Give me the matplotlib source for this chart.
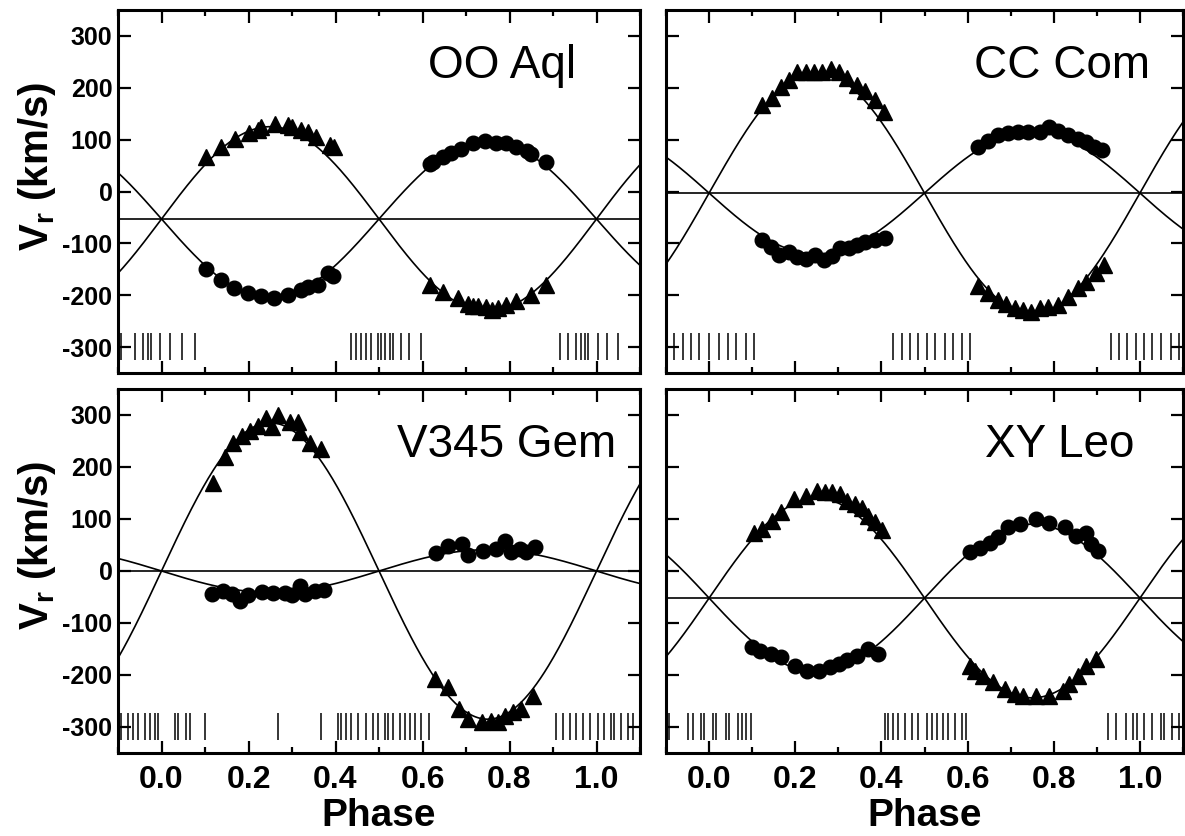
import numpy as np
import matplotlib
matplotlib.use("Agg")
import matplotlib.pyplot as plt
from matplotlib.ticker import MultipleLocator

plt.rcParams["font.family"] = ["Liberation Sans", "DejaVu Sans"]
plt.rcParams["mathtext.fontset"] = "custom"
plt.rcParams["mathtext.rm"] = "Liberation Sans"
plt.rcParams["mathtext.bf"] = "Liberation Sans:bold"
plt.rcParams["axes.unicode_minus"] = False

# ---- data ---------------------------------------------------------------
# OO Aql
oo_tri_ph = [0.103, 0.136, 0.168, 0.200, 0.222, 0.229, 0.260, 0.291, 0.300, 0.320, 0.337, 0.356, 0.387, 0.397,
             0.617, 0.647, 0.682, 0.705, 0.715, 0.728, 0.747, 0.760, 0.773, 0.793, 0.816, 0.850, 0.885]
oo_tri_v = [67, 86, 101, 113, 118, 125, 131, 129, 125, 119, 115, 106, 90, 86,
            -180, -193, -206, -216, -220, -221, -223, -228, -225, -219, -212, -200, -180]
oo_cir_ph = [0.103, 0.137, 0.167, 0.199, 0.229, 0.259, 0.291, 0.320, 0.337, 0.360, 0.383, 0.394,
             0.617, 0.625, 0.647, 0.666, 0.689, 0.716, 0.743, 0.770, 0.793, 0.816, 0.840, 0.850, 0.885]
oo_cir_v = [-150, -171, -187, -195, -201, -206, -200, -190, -185, -180, -158, -163,
            53, 56, 67, 75, 81, 94, 98, 94, 93, 86, 78, 72, 56]
oo_obs = [-0.092, -0.062, -0.043, -0.031, -0.023, -0.004, 0.019, 0.046, 0.076,
          0.436, 0.448, 0.459, 0.471, 0.482, 0.498, 0.505, 0.513, 0.525, 0.532, 0.551, 0.570, 0.597,
          0.915, 0.934, 0.954, 0.965, 0.973, 0.980, 1.003, 1.023, 1.049]
oo_orbit = (-53, 152, 178)  # gamma, K1 (circles), K2 (triangles)

# CC Com
cc_tri_ph = [0.123, 0.147, 0.166, 0.185, 0.204, 0.224, 0.243, 0.262, 0.282, 0.301, 0.320, 0.343, 0.362, 0.386, 0.405,
             0.624, 0.648, 0.671, 0.690, 0.709, 0.729, 0.748, 0.767, 0.786, 0.809, 0.833, 0.856, 0.875, 0.898, 0.917]
cc_tri_v = [167, 180, 202, 215, 231, 231, 231, 231, 236, 231, 218, 205, 193, 176, 154,
            -183, -196, -209, -216, -225, -228, -232, -225, -222, -219, -203, -187, -174, -158, -142]
cc_cir_ph = [0.123, 0.143, 0.162, 0.185, 0.204, 0.224, 0.247, 0.266, 0.285, 0.305, 0.324, 0.343, 0.362, 0.386, 0.409,
             0.624, 0.648, 0.671, 0.694, 0.717, 0.740, 0.767, 0.790, 0.809, 0.833, 0.856, 0.875, 0.894, 0.913]
cc_cir_v = [-93, -107, -122, -116, -127, -131, -122, -133, -125, -109, -109, -103, -97, -93, -90,
            86, 98, 109, 113, 115, 115, 115, 125, 117, 109, 102, 96, 86, 80]
cc_obs = [-0.081, -0.061, -0.042, -0.023, 0.000, 0.023, 0.043, 0.062, 0.085, 0.104,
          0.428, 0.447, 0.466, 0.486, 0.505, 0.524, 0.547, 0.567, 0.586, 0.605,
          0.933, 0.952, 0.971, 0.991, 1.010, 1.029, 1.048, 1.071, 1.091]
cc_orbit = (-3, 118, 233)

# V345 Gem
gem_tri_ph = [0.118, 0.145, 0.164, 0.184, 0.203, 0.222, 0.241, 0.253, 0.268, 0.295, 0.314, 0.318, 0.341, 0.367,
              0.628, 0.659, 0.685, 0.705, 0.736, 0.758, 0.774, 0.789, 0.808, 0.827, 0.854]
gem_tri_v = [170, 219, 247, 260, 270, 279, 295, 276, 300, 286, 286, 267, 247, 235,
             -208, -224, -265, -285, -291, -288, -291, -278, -272, -265, -240]
gem_cir_ph = [0.115, 0.141, 0.161, 0.180, 0.199, 0.230, 0.256, 0.283, 0.299, 0.318, 0.329, 0.352, 0.374,
              0.632, 0.659, 0.690, 0.705, 0.739, 0.770, 0.789, 0.804, 0.823, 0.839, 0.858]
gem_cir_v = [-45, -38, -44, -57, -47, -41, -42, -42, -47, -28, -45, -38, -37,
             34, 49, 52, 31, 39, 43, 58, 36, 42, 37, 47]
gem_obs = [-0.092, -0.077, -0.066, -0.054, -0.039, -0.027, -0.016, -0.008, 0.030, 0.038, 0.057, 0.065, 0.099,
           0.268, 0.367,
           0.406, 0.413, 0.425, 0.436, 0.452, 0.471, 0.486, 0.498, 0.513, 0.521, 0.532, 0.548, 0.559, 0.571,
           0.582, 0.597, 0.616,
           0.908, 0.923, 0.938, 0.954, 0.969, 0.984, 1.003, 1.018, 1.034, 1.041, 1.057, 1.072, 1.084]
gem_orbit = (0, 41, 285)

# XY Leo
xy_tri_ph = [0.104, 0.123, 0.146, 0.166, 0.197, 0.224, 0.250, 0.270, 0.285, 0.305, 0.320, 0.339, 0.355, 0.370,
             0.386, 0.401,
             0.605, 0.617, 0.636, 0.659, 0.686, 0.709, 0.728, 0.759, 0.790, 0.821, 0.836, 0.856, 0.875, 0.898]
xy_tri_v = [74, 81, 97, 113, 138, 145, 154, 151, 151, 148, 135, 129, 122, 106, 94, 78,
            -182, -192, -201, -214, -227, -237, -240, -240, -240, -230, -217, -201, -182, -169]
xy_cir_ph = [0.100, 0.119, 0.143, 0.166, 0.200, 0.227, 0.254, 0.281, 0.301, 0.320, 0.343, 0.370, 0.393,
             0.605, 0.628, 0.651, 0.671, 0.694, 0.721, 0.759, 0.790, 0.825, 0.852, 0.875, 0.886, 0.902]
xy_cir_v = [-147, -153, -160, -166, -182, -192, -192, -185, -179, -172, -163, -150, -160,
            36, 44, 54, 65, 84, 90, 100, 93, 84, 68, 73, 52, 39]
xy_obs = [-0.092, -0.050, -0.038, -0.019, -0.011, 0.008, 0.016, 0.039, 0.046, 0.066, 0.077, 0.085, 0.097,
          0.408, 0.416, 0.428, 0.439, 0.455, 0.470, 0.486, 0.505, 0.517, 0.528, 0.543, 0.555, 0.570, 0.586, 0.597,
          0.925, 0.944, 0.967, 0.983, 0.994, 1.010, 1.029, 1.048, 1.056, 1.075, 1.091]
xy_orbit = (-52, 142, 192)

x_ticks = [0.0, 0.2, 0.4, 0.6, 0.8, 1.0]
y_ticks = [-300, -200, -100, 0, 100, 200, 300]

panels = [
    ("OO Aql", 0.736, oo_tri_ph, oo_tri_v, oo_cir_ph, oo_cir_v, oo_obs, oo_orbit),
    ("CC Com", 0.765, cc_tri_ph, cc_tri_v, cc_cir_ph, cc_cir_v, cc_obs, cc_orbit),
    ("V345 Gem", 0.745, gem_tri_ph, gem_tri_v, gem_cir_ph, gem_cir_v, gem_obs, gem_orbit),
    ("XY Leo", 0.762, xy_tri_ph, xy_tri_v, xy_cir_ph, xy_cir_v, xy_obs, xy_orbit),
]

W, H = 1185, 836
rects = [
    [118 / W, 1 - 373 / H, 522 / W, 363 / H],
    [666 / W, 1 - 373 / H, 517 / W, 363 / H],
    [118 / W, 1 - 753 / H, 522 / W, 364 / H],
    [666 / W, 1 - 753 / H, 517 / W, 364 / H],
]

fig = plt.figure(figsize=(W / 100, H / 100), dpi=100)
phase_grid = np.linspace(-0.1, 1.1, 400)

for idx, (name, name_x, tph, tv, cph, cv, obs, (gamma, k1, k2)) in enumerate(panels):
    ax = fig.add_axes(rects[idx])
    s = np.sin(2 * np.pi * phase_grid)

    # fitted orbits and systemic velocity
    ax.plot(phase_grid, gamma - k1 * s, color="black", lw=1.2, zorder=2)
    ax.plot(phase_grid, gamma + k2 * s, color="black", lw=1.2, zorder=2)
    ax.axhline(gamma, color="black", lw=1.2, zorder=2)

    # measured velocities
    ax.plot(tph, tv, "^", color="black", ms=12, mec="black", zorder=3)
    ax.plot(cph, cv, "o", color="black", ms=10.5, mec="black", zorder=3)

    # phases of the observed spectra
    ax.vlines(obs, -325, -273, color="black", lw=1.1, zorder=2)

    ax.text(name_x, 0.813, name, transform=ax.transAxes, ha="center", va="baseline",
            fontsize=33)

    ax.set_xlim(-0.1, 1.1)
    ax.set_ylim(-350, 350)
    ax.set_xticks(x_ticks)
    ax.xaxis.set_minor_locator(MultipleLocator(0.1))
    ax.set_yticks(y_ticks)

    ax.tick_params(which="both", direction="in", top=True, right=True, width=1.6)
    ax.tick_params(which="major", length=9)
    ax.tick_params(which="minor", length=4.5)
    ax.tick_params(axis="y", pad=4, labelsize=18)
    ax.tick_params(axis="x", pad=9, labelsize=23)
    for sp in ax.spines.values():
        sp.set_linewidth(2.2)

    for lab in ax.get_xticklabels() + ax.get_yticklabels():
        lab.set_fontweight("bold")

    if idx % 2 == 0:
        ax.set_ylabel(r"$\mathbf{V_r}$ (km/s)", fontsize=29, fontweight="bold")
        ax.yaxis.set_label_coords(-0.115, 0.57)
    else:
        ax.set_yticklabels([])

    if idx >= 2:
        ax.set_xlabel("Phase", fontsize=28, fontweight="bold")
        ax.xaxis.set_label_coords(0.5, -0.125)
    else:
        ax.set_xticklabels([])

fig.savefig("out.png", dpi=100)
